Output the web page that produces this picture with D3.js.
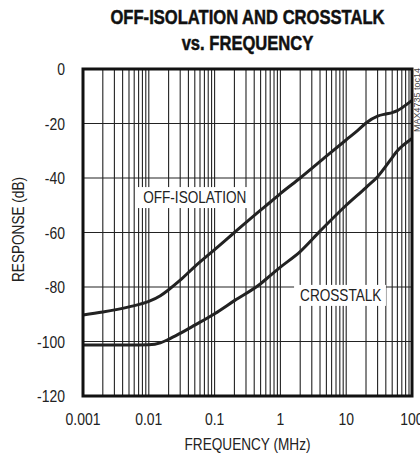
<!DOCTYPE html>
<html>
<head>
<meta charset="utf-8">
<script src="https://cdn.jsdelivr.net/npm/d3@7"></script>
<style>
  body { margin: 0; background: #fff; }
  text { font-family: "Liberation Sans", Arial, sans-serif; fill: #222; }
</style>
</head>
<body>
<script>
// curves (MHz, dB)
var isoFreq = [0.001, 0.002, 0.005, 0.01, 0.015, 0.02, 0.03, 0.05, 0.1, 0.2, 0.5, 0.7, 1, 2, 5, 10, 15, 20, 30, 40, 50, 60, 70, 85, 100];
var isoDb   = [-90.3, -89.2, -87.3, -85.3, -83.2, -81, -77.5, -72.5, -66.3, -60, -51.8, -48.9, -45.7, -40, -32, -26, -22.5, -19.8, -17.3, -16.5, -16, -15.3, -14.3, -12.8, -11.5];

var xtFreq = [0.001, 0.005, 0.01, 0.015, 0.02, 0.03, 0.05, 0.1, 0.2, 0.5, 0.7, 1, 2, 4, 10, 20, 30, 50, 60, 75, 100];
var xtDb   = [-101.3, -101.3, -101.2, -100.5, -99.2, -97, -94, -89.8, -85, -78.8, -75.8, -72.7, -67, -59.5, -50, -43.5, -39.5, -32.5, -30, -27.8, -25.5];

var xTicks = [0.001, 0.01, 0.1, 1, 10, 100];
var xTickLabels = ["0.001", "0.01", "0.1", "1", "10", "100"];
var yTicks = [0, -20, -40, -60, -80, -100, -120];

var titleLines = ["OFF-ISOLATION AND CROSSTALK", "vs. FREQUENCY"];

var labelText = ["OFF-ISOLATION", "CROSSTALK"];
var labelFreq = [0.0082, 1.99];
var labelDb = [-49.2, -85.1];

var width = 420, height = 454;
var margin = {top: 69, right: 8, bottom: 58, left: 83};
var chartWidth = width - margin.left - margin.right;
var chartHeight = height - margin.top - margin.bottom;

// squeeze text to look like the condensed face of the original
function narrow(sel, k) {
  sel.each(function() {
    var w = this.getComputedTextLength();
    d3.select(this)
      .attr("textLength", w * k)
      .attr("lengthAdjust", "spacingAndGlyphs");
  });
}

var svg = d3.select("body").append("svg")
    .attr("width", width)
    .attr("height", height);

titleLines.forEach(function(t, i) {
  svg.append("g")
      .attr("transform", `translate(${margin.left + chartWidth / 2}, ${24 + i * 26}) scale(0.79, 1)`)
    .append("text")
      .attr("text-anchor", "middle")
      .style("font-weight", "bold")
      .style("font-size", "21px")
      .style("fill", "#111")
      .style("stroke", "#111")
      .style("stroke-width", 0.5)
      .text(t);
});

var chartGroup = svg.append("g")
    .attr("transform", `translate(${margin.left}, ${margin.top})`);

var xScale = d3.scaleLog().domain([0.001, 100]).range([0, chartWidth]);
var yScale = d3.scaleLinear().domain([-120, 0]).range([chartHeight, 0]);

// vertical grid: every 1..9 in each decade
var minor = [];
for (var d = -3; d < 2; d++) {
  for (var m = 1; m < 10; m++) minor.push(m * Math.pow(10, d));
}
chartGroup.append("g")
    .selectAll("line")
    .data(minor)
    .enter()
    .append("line")
    .attr("x1", d => xScale(d))
    .attr("x2", d => xScale(d))
    .attr("y1", 0)
    .attr("y2", chartHeight)
    .attr("stroke", "#222")
    .attr("stroke-width", 1.1);

chartGroup.append("g")
    .selectAll("line")
    .data(yTicks)
    .enter()
    .append("line")
    .attr("x1", 0)
    .attr("x2", chartWidth)
    .attr("y1", d => yScale(d))
    .attr("y2", d => yScale(d))
    .attr("stroke", "#222")
    .attr("stroke-width", 1.1);

// labels with white boxes
var labels = chartGroup.append("g");
labelText.forEach(function(t, i) {
  var g = labels.append("g");
  var txt = g.append("text")
      .attr("x", xScale(labelFreq[i]))
      .attr("y", yScale(labelDb[i]))
      .style("font-size", "17px")
      .text(t)
      .call(narrow, 0.8);
  var bb = txt.node().getBBox();
  g.insert("rect", "text")
      .attr("x", bb.x - 6)
      .attr("y", bb.y - 1)
      .attr("width", bb.width + 10)
      .attr("height", bb.height + 2)
      .attr("fill", "#fff");
});

var line = d3.line()
    .x(d => xScale(d[0]))
    .y(d => yScale(d[1]))
    .curve(d3.curveMonotoneX);

chartGroup.append("path")
    .datum(d3.zip(isoFreq, isoDb))
    .attr("d", line)
    .attr("fill", "none")
    .attr("stroke", "#222")
    .attr("stroke-width", 3);

chartGroup.append("path")
    .datum(d3.zip(xtFreq, xtDb))
    .attr("d", line)
    .attr("fill", "none")
    .attr("stroke", "#222")
    .attr("stroke-width", 3);

// frame
chartGroup.append("rect")
    .attr("x", 0)
    .attr("y", 0)
    .attr("width", chartWidth)
    .attr("height", chartHeight)
    .attr("fill", "none")
    .attr("stroke", "#111")
    .attr("stroke-width", 3);

// tick labels
chartGroup.append("g")
    .selectAll("text")
    .data(yTicks)
    .enter()
    .append("text")
    .attr("x", -18)
    .attr("y", d => yScale(d))
    .attr("dy", "0.36em")
    .attr("text-anchor", "end")
    .style("font-size", "17px")
    .text(d => d)
    .call(narrow, 0.82);

chartGroup.append("g")
    .selectAll("text")
    .data(xTicks)
    .enter()
    .append("text")
    .attr("x", d => xScale(d))
    .attr("y", chartHeight + 29)
    .attr("text-anchor", "middle")
    .style("font-size", "17px")
    .text((d, i) => xTickLabels[i])
    .call(narrow, 0.82);

// axis titles
chartGroup.append("text")
    .attr("x", chartWidth / 2)
    .attr("y", chartHeight + 54)
    .attr("text-anchor", "middle")
    .style("font-size", "17px")
    .text("FREQUENCY (MHz)")
    .call(narrow, 0.8);

chartGroup.append("text")
    .attr("transform", "rotate(-90)")
    .attr("x", -(chartHeight / 2) + 3)
    .attr("y", 24 - margin.left)
    .attr("text-anchor", "middle")
    .style("font-size", "17px")
    .text("RESPONSE (dB)")
    .call(narrow, 0.8);

svg.append("text")
    .attr("transform", "translate(419.5, 68) rotate(-90)")
    .attr("text-anchor", "end")
    .style("font-size", "9px")
    .style("fill", "#444")
    .text("MAX4735 toc14");
</script>
</body>
</html>
